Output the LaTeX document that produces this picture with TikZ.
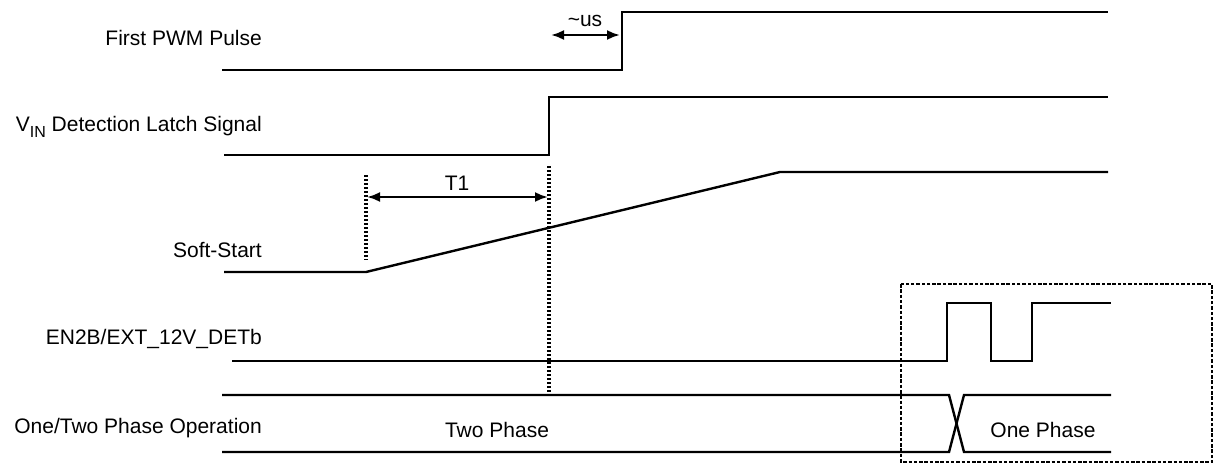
\documentclass[tikz,border=0pt]{standalone}
\usepackage{fontspec}
\setmainfont{Liberation Sans}
\usetikzlibrary{arrows.meta}
\begin{document}
\begin{tikzpicture}[x=1pt,y=-1pt,
  wave/.style={line width=2.4pt,line join=miter},
  lbl/.style={anchor=east,inner sep=0pt,font=\fontsize{21}{24}\selectfont},
  txt/.style={inner sep=0pt,font=\fontsize{21}{24}\selectfont},
  dotline/.style={line width=3.4pt,dash pattern=on 2.4pt off 1.6pt},
  dim/.style={line width=2.4pt,{Latex[length=13pt,width=10pt]}-{Latex[length=13pt,width=10pt]}},
  boxd/.style={line width=2pt,dash pattern=on 3.5pt off 1.8pt}]
\useasboundingbox (0,0) rectangle (1214,464);
% labels
\node[lbl] (l1) at (262,38) {First PWM Pulse};
\node[lbl] (l2) at (262,127) {V\raisebox{-0.32em}{\fontsize{16}{18}\selectfont IN} Detection Latch Signal};
\node[lbl] (l3) at (262,250) {Soft-Start};
\node[lbl] (l4) at (262,339) {EN2B/EXT\_12V\_DETb};
\node[lbl] (l5) at (262,428) {One/Two Phase Operation};
% First PWM pulse
\draw[wave] (222,70) -- (622,70) -- (622,12) -- (1108,12);
\coordinate (us1) at (551,35);
\coordinate (us2) at (620,35);
\draw[dim] (us1) -- (us2);
\node[txt] (usl) at (585,21) {\textasciitilde us};
% VIN latch
\draw[wave] (224,155) -- (549,155) -- (549,97) -- (1108,97);
% Soft start
\draw[wave] (224,272) -- (366,272) -- (780,172) -- (1108,172);
% dotted markers
\coordinate (d1t) at (366,175);
\coordinate (d1b) at (366,260);
\coordinate (d2t) at (549,166);
\coordinate (d2b) at (549,394);
\draw[dotline] (d1t) -- (d1b);
\draw[dotline] (d2t) -- (d2b);
\coordinate (t1a) at (367,197);
\coordinate (t1b) at (548,197);
\draw[dim] (t1a) -- (t1b);
\node[txt] (t1l) at (457,183) {T1};
% EN2B
\draw[wave] (232,361) -- (947,361) -- (947,303) -- (991,303) -- (991,361) -- (1032,361) -- (1032,303) -- (1111,303);
% One/Two phase
\draw[wave] (222,395) -- (949,395) -- (964,452) -- (1111,452);
\draw[wave] (222,452) -- (949,452) -- (964,395) -- (1111,395);
\node[txt] (tp) at (497,430) {Two Phase};
\node[txt] (op) at (1043,430) {One Phase};
% dashed box
\draw[boxd] (901,284) rectangle (1212,462);
\end{tikzpicture}
\end{document}
